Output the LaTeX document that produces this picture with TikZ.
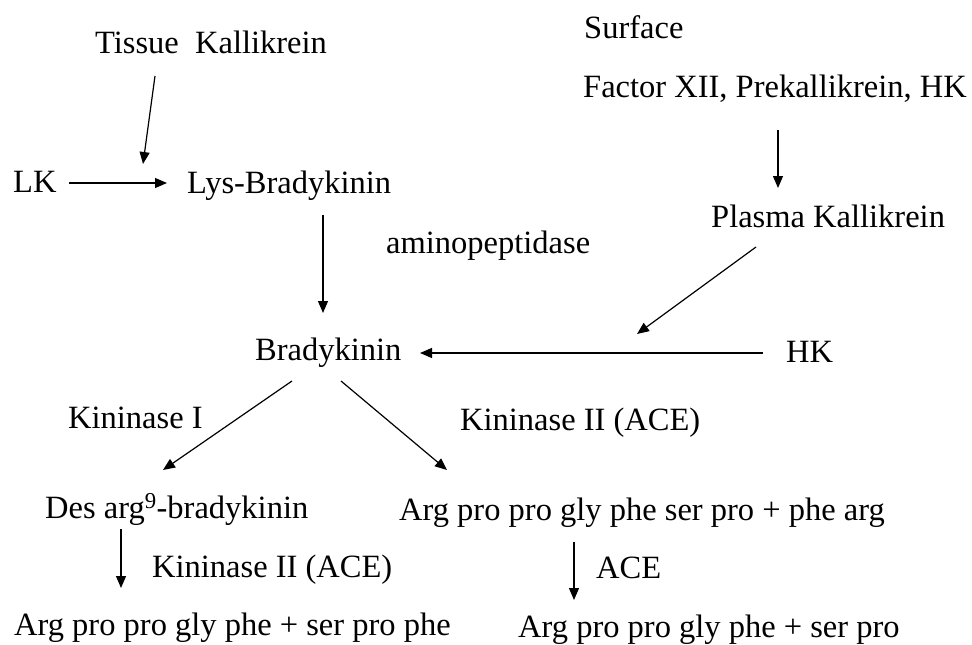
\documentclass[tikz,border=0pt]{standalone}
\usepackage{fontspec}
\setmainfont{Liberation Serif}
\usetikzlibrary{arrows.meta}
\begin{document}
\begin{tikzpicture}[x=1pt,y=-1pt,
  lbl/.style={anchor=base west,inner sep=0pt,font=\fontsize{32.5}{36}\selectfont},
  arr/.style={line width=1.2pt,-{Triangle[length=12pt,width=10pt]}}]
\useasboundingbox (0,0) rectangle (972,645);
% texts
\node[lbl] (tk) at (95,53) {Tissue\ \ Kallikrein};
\node[lbl] (surf) at (584,38) {Surface};
\node[lbl] (fxii) at (583,97) {Factor XII, Prekallikrein, HK};
\node[lbl] (lk) at (13,192) {LK};
\node[lbl] (lys) at (187,193) {Lys-Bradykinin};
\node[lbl] (amino) at (386,253) {aminopeptidase};
\node[lbl] (pk) at (711,227) {Plasma Kallikrein};
\node[lbl] (brady) at (255,360) {Bradykinin};
\node[lbl] (hk) at (786,362) {HK};
\node[lbl] (kin1) at (68,428) {Kininase I};
\node[lbl] (kin2a) at (460,430) {Kininase II (ACE)};
\node[lbl] (des) at (45,518) {Des arg\textsuperscript{9}-bradykinin};
\node[lbl] (argA) at (399,520) {Arg pro pro gly phe ser pro + phe arg};
\node[lbl] (kin2b) at (152,577) {Kininase II (ACE)};
\node[lbl] (ace) at (596,578) {ACE};
\node[lbl] (prodL) at (14,635) {Arg pro pro gly phe + ser pro phe};
\node[lbl] (prodR) at (518,637) {Arg pro pro gly phe + ser pro};
% connector end points
\coordinate (tk1) at (155,76);  \coordinate (tk2) at (143,164);
\coordinate (lk1) at (69,183);  \coordinate (lk2) at (167,183);
\coordinate (ly1) at (323,215); \coordinate (ly2) at (323,313);
\coordinate (fx1) at (778,130); \coordinate (fx2) at (778,188);
\coordinate (pk1) at (756,247); \coordinate (pk2) at (637,334);
\coordinate (hk1) at (763,353); \coordinate (hk2) at (420,353);
\coordinate (b1) at (292,381);  \coordinate (b2) at (163,470);
\coordinate (b3) at (341,381);  \coordinate (b4) at (447,470);
\coordinate (d1) at (121,529);  \coordinate (d2) at (121,588);
\coordinate (a1) at (574,542);  \coordinate (a2) at (574,600);
% connectors
\draw[arr] (tk1) -- (tk2);
\draw[arr] (lk1) -- (lk2);
\draw[arr] (ly1) -- (ly2);
\draw[arr] (fx1) -- (fx2);
\draw[arr] (pk1) -- (pk2);
\draw[arr] (hk1) -- (hk2);
\draw[arr] (b1) -- (b2);
\draw[arr] (b3) -- (b4);
\draw[arr] (d1) -- (d2);
\draw[arr] (a1) -- (a2);
\end{tikzpicture}
\end{document}
